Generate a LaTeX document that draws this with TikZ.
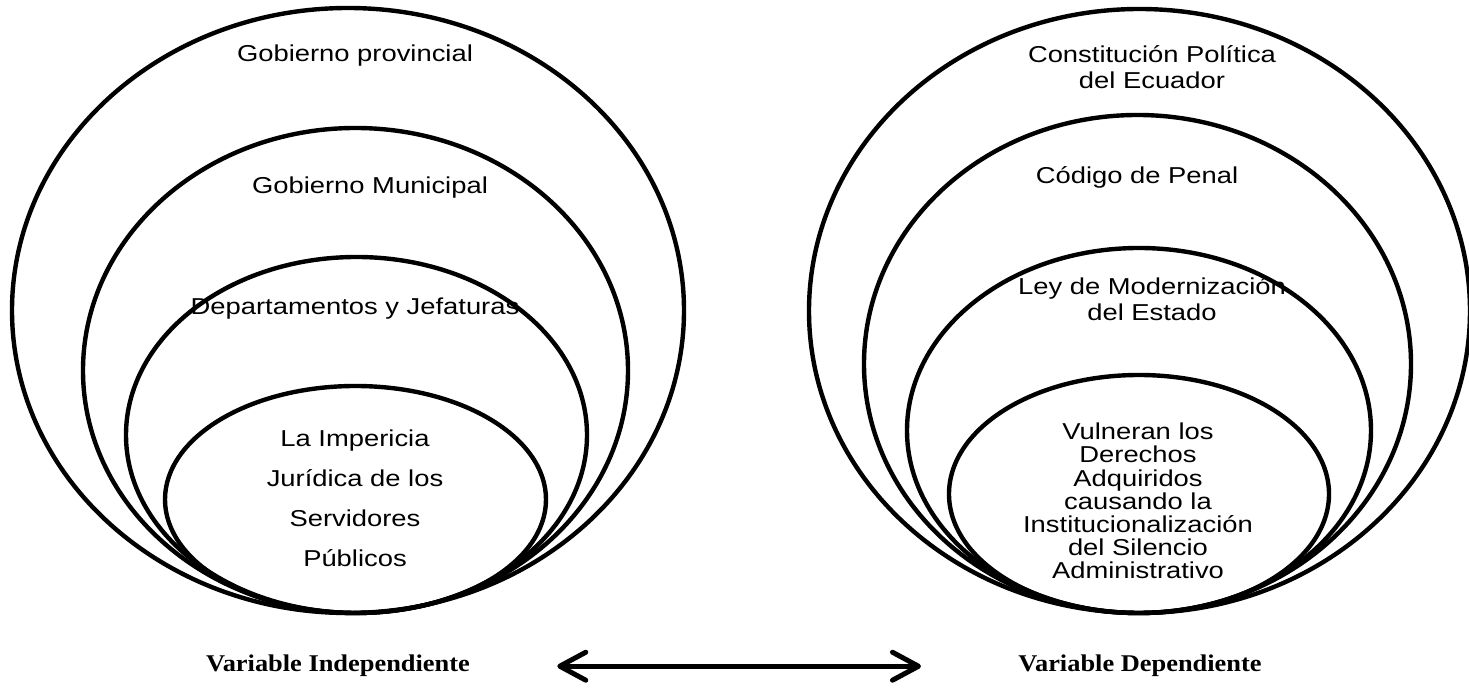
\documentclass[tikz,border=0pt]{standalone}
\usepackage{fontspec}
\newfontfamily\ringfont[FakeStretch=1.19]{Liberation Sans}
\newfontfamily\varfont[FakeStretch=1.1]{Liberation Serif}
\usetikzlibrary{shapes.geometric,arrows.meta}
\tikzset{
  ring/.style={draw, ellipse, line width=2.2pt, inner sep=0pt},
  lbl/.style={font=\ringfont\fontsize{11.5}{13}\selectfont, align=center, inner sep=0pt},
  varlbl/.style={font=\varfont\bfseries\fontsize{12}{14}\selectfont, inner sep=0pt},
}
\begin{document}
\begin{tikzpicture}[x=0.5pt, y=-0.5pt]
      \useasboundingbox (0,0) rectangle (1469,688);
      % left rings
      \node[ring, minimum width=336pt, minimum height=302.5pt] (lprov) at (348,310.5) {};
      \node[ring, minimum width=272.5pt, minimum height=242.5pt] (lmun) at (355.5,370.5) {};
      \node[ring, minimum width=230.5pt, minimum height=178pt] (ldep) at (356.5,435) {};
      \node[ring, minimum width=190.5pt, minimum height=113.5pt] (limp) at (355.5,499.5) {};
      \node[lbl] (tprov) at (355,56) {Gobierno provincial};
      \node[lbl] (tmun) at (370,188) {Gobierno Municipal};
      \node[lbl] (tdep) at (355,309) {Departamentos y Jefaturas};
      \node[lbl, font=\ringfont\fontsize{11.5}{20}\selectfont] (timp) at (355,498)
         {La Impericia\\Jurídica de los\\Servidores\\Públicos};
      % right rings
      \node[ring, minimum width=330.5pt, minimum height=302pt] (rcon) at (1139.5,311) {};
      \node[ring, minimum width=273.5pt, minimum height=249pt] (rcod) at (1137.5,364) {};
      \node[ring, minimum width=232pt, minimum height=182.5pt] (rley) at (1139,430.5) {};
      \node[ring, minimum width=190pt, minimum height=119pt] (rvul) at (1139,494) {};
      \node[lbl] (tcon) at (1152,67) {Constitución Política\\del Ecuador};
      \node[lbl] (tcod) at (1137,177) {Código de Penal};
      \node[lbl] (tley) at (1152,299) {Ley de Modernización\\del Estado};
      \node[lbl, font=\ringfont\fontsize{11.5}{11.6}\selectfont] (tvul) at (1138,501)
         {Vulneran los\\Derechos\\Adquiridos\\causando la\\Institucionalización\\del Silencio\\Administrativo};
      % variables
      \node[varlbl, anchor=base] (vind) at (338,672) {Variable Independiente};
      \node[varlbl, anchor=base] (vdep) at (1140,672) {Variable Dependiente};
      \draw[line width=2.5pt, {Straight Barb[length=13pt,width=14pt,round]}-{Straight Barb[length=13pt,width=14pt,round]},
         shorten <=43.5pt, shorten >=48.5pt] (vind.east) -- (vdep.west);
\end{tikzpicture}
\end{document}
